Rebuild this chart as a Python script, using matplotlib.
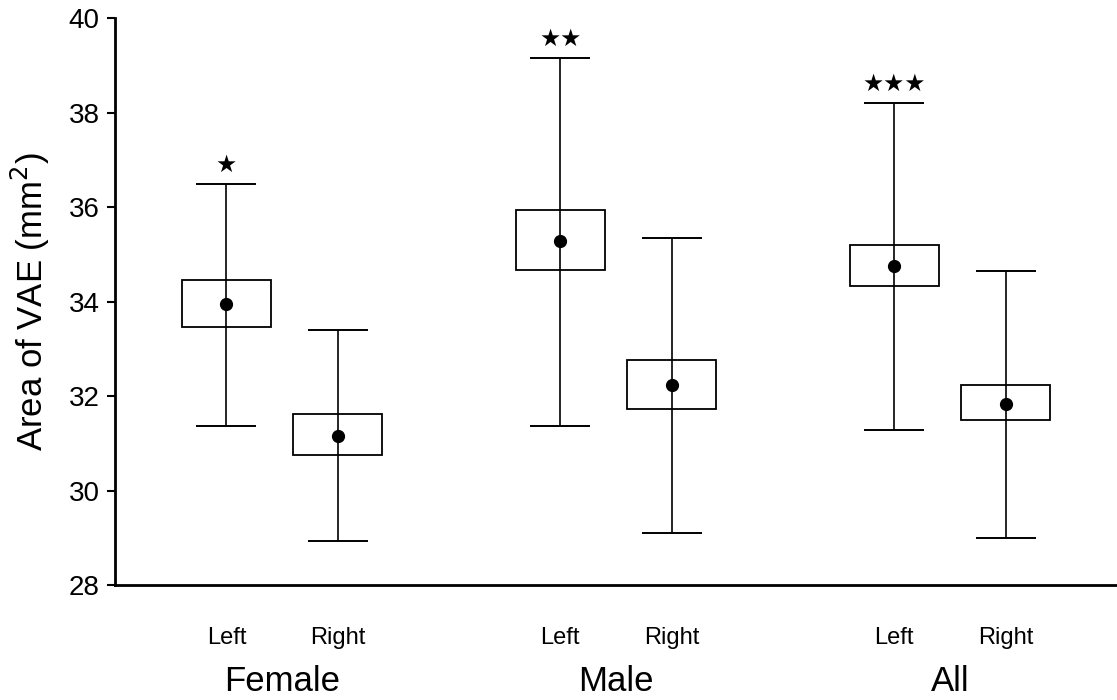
import matplotlib
matplotlib.use("Agg")
import matplotlib.pyplot as plt
import numpy as np

plt.rcParams['font.family'] = ['Liberation Sans', 'DejaVu Sans']

groups = ["Female", "Male", "All"]
sides = ["Left", "Right"]
positions = [1, 2, 4, 5, 7, 8]
whisker_low = [31.36, 28.93, 31.36, 29.10, 31.28, 28.99]
whisker_high = [36.50, 33.40, 39.15, 35.34, 38.20, 34.65]
box_low = [33.46, 30.75, 34.67, 31.72, 34.33, 31.49]
box_high = [34.45, 31.62, 35.94, 32.76, 35.20, 32.23]
means = [33.95, 31.15, 35.28, 32.23, 34.75, 31.83]
stars = [1, 0, 2, 0, 3, 0]

fig = plt.figure(figsize=(11.17, 7.0), dpi=100)
ax = fig.add_axes([0.103, 0.164, 0.897, 0.81])

pos = np.array(positions, dtype=float)
ax.vlines(pos, whisker_low, whisker_high, color='black', lw=1.2, zorder=2)
ax.hlines(whisker_high, pos - 0.27, pos + 0.27, color='black', lw=1.4, zorder=2)
ax.hlines(whisker_low, pos - 0.27, pos + 0.27, color='black', lw=1.4, zorder=2)
ax.bar(pos, np.array(box_high) - np.array(box_low), bottom=box_low, width=0.8,
       facecolor='none', edgecolor='black', lw=1.3, zorder=3)
ax.plot(pos, means, 'o', color='black', ms=8.5, zorder=4)

for p, hi, n in zip(pos, whisker_high, stars):
    if n:
        ax.text(p, hi + 0.15, "\u2605" * n, ha='center', va='bottom', fontsize=17,
                family='DejaVu Sans')

ax.set_xlim(0, 9)
ax.set_ylim(28, 40)
ax.set_yticks(np.arange(28, 41, 2))
ax.tick_params(axis='y', labelsize=20, length=6, width=1.5, direction='out', pad=5)
ax.set_xticks(pos)
ax.set_xticklabels(sides * 3, fontsize=17)
ax.tick_params(axis='x', length=0, pad=30)
ax.set_ylabel("Area of VAE (mm$^2$)", fontsize=25, labelpad=12)

for i, g in enumerate(groups):
    ax.text((pos[2 * i] + pos[2 * i + 1]) / 2, -0.17, g, transform=ax.get_xaxis_transform(),
            ha='center', va='center', fontsize=25)

for side in ['top', 'right']:
    ax.spines[side].set_visible(False)
ax.spines['left'].set_linewidth(2)
ax.spines['bottom'].set_linewidth(2)

fig.savefig("out.png", dpi=100)
